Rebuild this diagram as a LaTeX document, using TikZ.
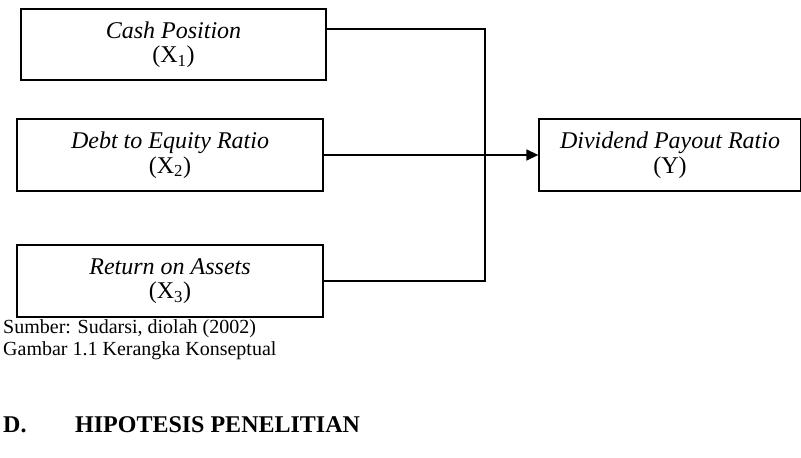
\documentclass[tikz,border=0pt]{standalone}
\usepackage{fontspec}
\setmainfont{Liberation Serif}
\usetikzlibrary{arrows.meta}
\begin{document}
\begin{tikzpicture}[x=1pt,y=-1pt,
  varbox/.style={draw,line width=1.3pt,inner sep=0pt,align=center,
    font=\fontsize{24}{24.5}\selectfont},
  link/.style={line width=1.4pt},
  plain/.style={inner sep=0pt,anchor=base west}]
\useasboundingbox (0,0) rectangle (801,458);
\node[varbox,minimum width=305pt,minimum height=71pt] (b1) at (173.5,44.5)
  {\textit{Cash Position}\\(X\textsubscript{1})};
\node[varbox,minimum width=306pt,minimum height=72pt] (b2) at (170,155)
  {\textit{Debt to Equity Ratio}\\(X\textsubscript{2})};
\node[varbox,minimum width=306pt,minimum height=72pt] (b3) at (170,281)
  {\textit{Return on Assets}\\(X\textsubscript{3})};
\node[varbox,minimum width=262pt,minimum height=72pt] (by) at (670,155)
  {\textit{Dividend Payout Ratio}\\(Y)};
\coordinate (s1) at ([yshift=15.5pt]b1.east);
\coordinate (j1) at (485,29);
\coordinate (j3) at (485,281);
\draw[link] (s1) -- (j1) -- (j3) -- (b3.east);
\draw[link,-{Triangle[length=12pt,width=11pt]}] (b2.east) -- (by.west);
\node[plain,font=\fontsize{20}{22}\selectfont] (src) at (3,333) {Sumber: Sudarsi, diolah (2002)};
\node[plain,font=\fontsize{20}{22}\selectfont] (cap) at (3,355) {Gambar 1.1 Kerangka Konseptual};
\node[plain,font=\fontsize{24}{26}\selectfont\bfseries] (hd) at (3,432) {D.};
\node[plain,font=\fontsize{24}{26}\selectfont\bfseries] (ht) at (75,432) {HIPOTESIS PENELITIAN};
\end{tikzpicture}
\end{document}
